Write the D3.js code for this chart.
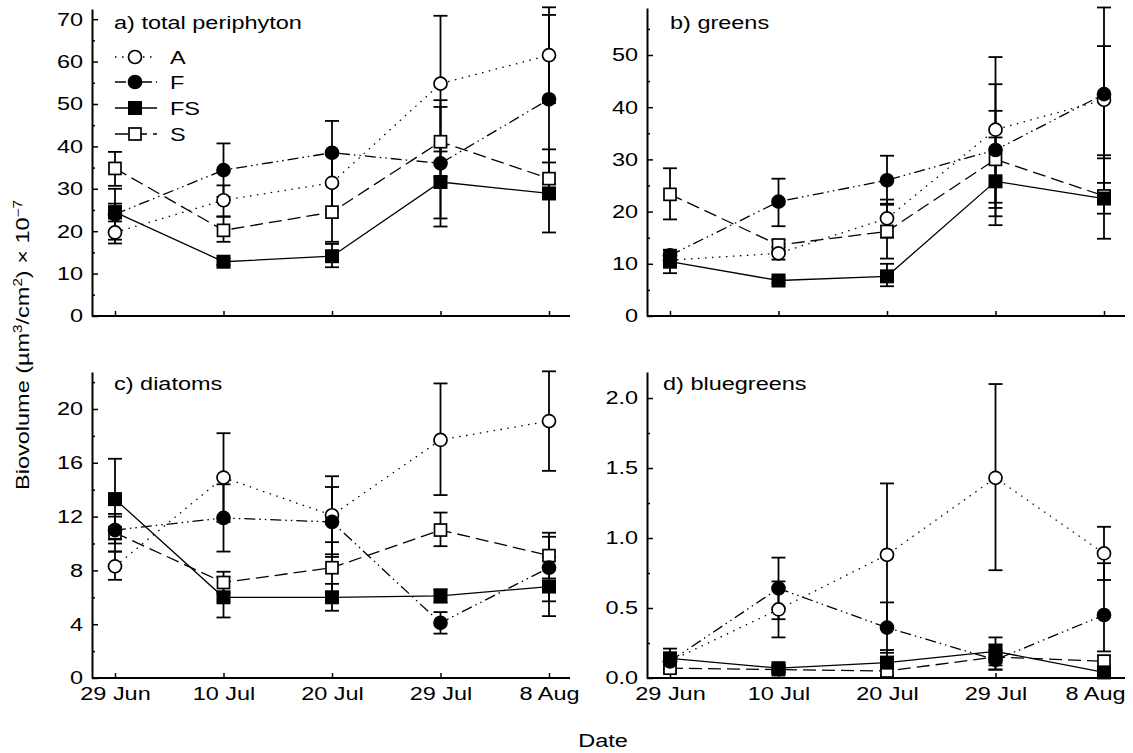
<!DOCTYPE html>
<html lang="en">
<head>
<meta charset="utf-8">
<title>Biovolume</title>
<script src="https://d3js.org/d3.v7.min.js"></script>
<style>
  body{margin:0;background:#fff;}
  svg{display:block;background:#fff;}
  text{font-family:"Liberation Sans",Arial,sans-serif;font-size:18.5px;fill:#000;}
</style>
</head>
<body>
<svg id="chart"></svg>
<script>
var dates = ["29 Jun","10 Jul","20 Jul","29 Jul","8 Aug"];
var treatments = ["A","F","FS","S"];

// a) total periphyton
var totalA = [19.7, 27.3, 31.4, 54.8, 61.5], totalAlo = [17.1, 23.5, 25.0, 38.8, 50.2], totalAhi = [22.3, 30.8, 38.0, 70.8, 72.8];
var totalF = [24.0, 34.4, 38.5, 36.0, 51.1], totalFlo = [18.0, 28.1, 31.0, 21.1, 31.2], totalFhi = [30.0, 40.7, 46.0, 50.9, 71.0];
var totalFS = [24.5, 12.8, 14.1, 31.6, 28.9], totalFSlo = [23.0, 12.0, 11.5, 23.0, 19.7], totalFShi = [26.5, 13.6, 17.0, 40.2, 39.3];
var totalS = [34.8, 20.2, 24.5, 41.1, 32.4], totalSlo = [30.7, 17.5, 17.5, 32.8, 28.5], totalShi = [38.7, 23.4, 31.5, 49.3, 36.2];

// b) greens
var greenA = [10.7, 12.0, 18.7, 35.7, 41.4], greenAlo = [9.5, 10.8, 15.0, 21.7, 24.0], greenAhi = [12.0, 13.2, 22.3, 49.6, 59.1];
var greenF = [11.6, 21.9, 26.0, 31.8, 42.5], greenFlo = [10.5, 17.2, 21.3, 19.1, 30.2], greenFhi = [12.7, 26.3, 30.7, 44.4, 51.7];
var greenFS = [10.4, 6.8, 7.6, 25.8, 22.5], greenFSlo = [8.2, 6.3, 5.7, 17.4, 14.8], greenFShi = [12.5, 7.3, 10.0, 34.2, 30.8];
var greenS = [23.3, 13.6, 16.2, 30.0, 23.0], greenSlo = [18.5, 12.5, 11.0, 20.7, 19.6], greenShi = [28.3, 14.6, 21.5, 39.3, 25.5];

// c) diatoms
var diatA = [8.3, 14.9, 12.1, 17.7, 19.1], diatAlo = [7.3, 11.6, 9.2, 13.6, 15.4], diatAhi = [9.4, 18.2, 15.0, 21.9, 22.8];
var diatF = [11.0, 11.9, 11.6, 4.1, 8.2], diatFlo = [10.0, 9.4, 9.0, 3.3, 5.7], diatFhi = [12.0, 14.4, 14.2, 4.9, 10.5];
var diatFS = [13.3, 6.0, 6.0, 6.1, 6.8], diatFSlo = [10.3, 4.5, 5.0, 5.6, 4.6], diatFShi = [16.3, 7.5, 7.0, 6.6, 9.0];
var diatS = [10.8, 7.1, 8.2, 11.0, 9.1], diatSlo = [9.4, 6.3, 6.4, 9.8, 7.4], diatShi = [12.2, 7.9, 10.1, 12.3, 10.8];

// d) bluegreens
var blueA = [0.12, 0.49, 0.88, 1.43, 0.89], blueAlo = [0.07, 0.29, 0.37, 0.77, 0.70], blueAhi = [0.17, 0.69, 1.39, 2.10, 1.08];
var blueF = [0.12, 0.64, 0.36, 0.13, 0.45], blueFlo = [0.06, 0.42, 0.18, 0.06, 0.19], blueFhi = [0.18, 0.86, 0.54, 0.20, 0.82];
var blueFS = [0.14, 0.07, 0.11, 0.19, 0.04], blueFSlo = [0.07, 0.05, 0.02, 0.09, 0.01], blueFShi = [0.21, 0.09, 0.20, 0.29, 0.07];
var blueS = [0.07, 0.06, 0.05, 0.15, 0.12], blueSlo = [0.04, 0.04, 0.01, 0.06, 0.08], blueShi = [0.10, 0.08, 0.10, 0.24, 0.16];

var totalTicks = [0,10,20,30,40,50,60,70], totalMinor = [5,15,25,35,45,55,65];
var greenTicks = [0,10,20,30,40,50], greenMinor = [5,15,25,35,45,55];
var diatTicks = [0,4,8,12,16,20], diatMinor = [2,6,10,14,18,22];
var blueTicks = [0,0.5,1.0,1.5,2.0], blueMinor = [0.25,0.75,1.25,1.75];

var W = 1133, H = 753;
var SX = 1.27;   // the original lettering is wider than Arial

var styles = {
  A:  {dash:"1.5,5.5", shape:"circle", fill:"#fff"},
  F:  {dash:"11,4,1.5,4,1.5,4", shape:"circle", fill:"#000"},
  FS: {dash:null, shape:"square", fill:"#000"},
  S:  {dash:"13,6", shape:"square", fill:"#fff"}
};

function series(m, lo, hi){ return {m:m, lo:lo, hi:hi}; }

var panels = [
  {x0:92, y0:316, top:9, max:72.4, ticks:totalTicks, minor:totalMinor, fmt:d3.format("d"),
   title:"a) total periphyton", tx:114, ty:29, xlabels:false, legend:true,
   s:{A:series(totalA,totalAlo,totalAhi), F:series(totalF,totalFlo,totalFhi), FS:series(totalFS,totalFSlo,totalFShi), S:series(totalS,totalSlo,totalShi)}},
  {x0:647, y0:316, top:8, max:59.0, ticks:greenTicks, minor:greenMinor, fmt:d3.format("d"),
   title:"b) greens", tx:670, ty:29, xlabels:false, legend:false,
   s:{A:series(greenA,greenAlo,greenAhi), F:series(greenF,greenFlo,greenFhi), FS:series(greenFS,greenFSlo,greenFShi), S:series(greenS,greenSlo,greenShi)}},
  {x0:92, y0:678, top:372, max:22.75, ticks:diatTicks, minor:diatMinor, fmt:d3.format("d"),
   title:"c) diatoms", tx:114, ty:390, xlabels:true, legend:false,
   s:{A:series(diatA,diatAlo,diatAhi), F:series(diatF,diatFlo,diatFhi), FS:series(diatFS,diatFSlo,diatFShi), S:series(diatS,diatSlo,diatShi)}},
  {x0:647, y0:678, top:372, max:2.186, ticks:blueTicks, minor:blueMinor, fmt:d3.format(".1f"),
   title:"d) bluegreens", tx:663, ty:390, xlabels:true, legend:false,
   s:{A:series(blueA,blueAlo,blueAhi), F:series(blueF,blueFlo,blueFhi), FS:series(blueFS,blueFSlo,blueFShi), S:series(blueS,blueSlo,blueShi)}}
];

var svg = d3.select("#chart").attr("width",W).attr("height",H);

function marker(sel, t, cx, cy){
  var st = styles[t];
  if(st.shape==="circle"){
    sel.append("circle").attr("cx",cx).attr("cy",cy).attr("r",6.5)
       .attr("fill",st.fill).attr("stroke","#000").attr("stroke-width",1.7);
  } else if(st.fill==="#000"){
    sel.append("rect").attr("x",cx-7).attr("y",cy-7).attr("width",14).attr("height",14).attr("fill","#000");
  } else {
    sel.append("rect").attr("x",cx-6).attr("y",cy-6).attr("width",12).attr("height",12)
       .attr("fill","#fff").attr("stroke","#000").attr("stroke-width",1.7);
  }
}

function label(sel, x, y, str, anchor){
  return sel.append("text").attr("transform","translate("+x+","+y+") scale("+SX+",1)")
            .attr("text-anchor",anchor||"start").text(str);
}

panels.forEach(function(p){
  var g = svg.append("g");
  var x = d3.scalePoint().domain(dates).range([p.x0+23, p.x0+457]);
  var y = d3.scaleLinear().domain([0,p.max]).range([p.y0,p.top]);

  // minor y ticks
  g.append("g").attr("transform","translate("+p.x0+",0)")
   .call(d3.axisLeft(y).tickValues(p.minor).tickSizeInner(-3).tickSizeOuter(0).tickFormat(""))
   .call(function(a){ a.select(".domain").remove(); a.selectAll("line").attr("stroke-width",1.5); });

  var ya = g.append("g").attr("transform","translate("+p.x0+",0)")
   .call(d3.axisLeft(y).tickValues(p.ticks).tickSizeInner(-6).tickSizeOuter(0).tickPadding(7).tickFormat(p.fmt));
  ya.select(".domain").attr("stroke-width",2);
  ya.selectAll(".tick line").attr("stroke-width",1.5);
  ya.selectAll("text").attr("transform","scale("+SX+",1)");

  var xa = g.append("g").attr("transform","translate(0,"+p.y0+")")
   .call(d3.axisBottom(x).tickSizeInner(-5).tickSizeOuter(0).tickPadding(9));
  xa.select(".domain").remove();
  xa.selectAll(".tick line").attr("stroke-width",1.5);
  if(p.xlabels){
    xa.selectAll("text").attr("transform","scale("+SX+",1)");
    // last label on the right edge sits a little left of its tick
    if(p.x0 > 600) xa.selectAll("text").filter(function(d){ return d==="8 Aug"; }).attr("x",-9/SX);
  } else xa.selectAll("text").remove();
  g.append("line").attr("x1",p.x0).attr("x2",p.x0+478).attr("y1",p.y0).attr("y2",p.y0)
   .attr("stroke","#000").attr("stroke-width",2);

  // error bars
  treatments.forEach(function(t){
    var s = p.s[t];
    var eb = g.append("g").attr("stroke","#000").attr("stroke-width",1.8);
    dates.forEach(function(d,i){
      eb.append("line").attr("x1",x(d)).attr("x2",x(d)).attr("y1",y(s.lo[i])).attr("y2",y(s.hi[i]));
      eb.append("line").attr("x1",x(d)-7).attr("x2",x(d)+7).attr("y1",y(s.lo[i])).attr("y2",y(s.lo[i]));
      eb.append("line").attr("x1",x(d)-7).attr("x2",x(d)+7).attr("y1",y(s.hi[i])).attr("y2",y(s.hi[i]));
    });
  });

  // lines
  var line = d3.line().x(function(d,i){ return x(dates[i]); }).y(function(d){ return y(d); });
  treatments.forEach(function(t){
    g.append("path").attr("d",line(p.s[t].m)).attr("fill","none").attr("stroke","#000")
     .attr("stroke-width",1.3).attr("stroke-dasharray",styles[t].dash);
  });

  // markers
  ["S","A","F","FS"].forEach(function(t){
    p.s[t].m.forEach(function(v,i){ marker(g, t, x(dates[i]), y(v)); });
  });

  label(g, p.tx, p.ty, p.title);

  if(p.legend){
    var ly = [57,82,108,134];
    treatments.forEach(function(t,i){
      g.append("line").attr("x1",115).attr("x2",157).attr("y1",ly[i]).attr("y2",ly[i])
       .attr("stroke","#000").attr("stroke-width",1.3).attr("stroke-dasharray",styles[t].dash);
      marker(g, t, 135, ly[i]);
      label(g, 170, ly[i]+6.5, t);
    });
  }
});

// axis titles
label(svg, 603, 747, "Date", "middle");
var yl = svg.append("text").attr("transform","translate(29,345) rotate(-90) scale("+SX+",1)")
  .attr("text-anchor","middle");
yl.append("tspan").text("Biovolume (\u00b5m");
yl.append("tspan").attr("dy",-7).style("font-size","12px").text("3");
yl.append("tspan").attr("dy",7).text("/cm");
yl.append("tspan").attr("dy",-7).style("font-size","12px").text("2");
yl.append("tspan").attr("dy",7).text(") \u00d7 10");
yl.append("tspan").attr("dy",-7).style("font-size","12px").text("\u22127");
</script>
</body>
</html>
